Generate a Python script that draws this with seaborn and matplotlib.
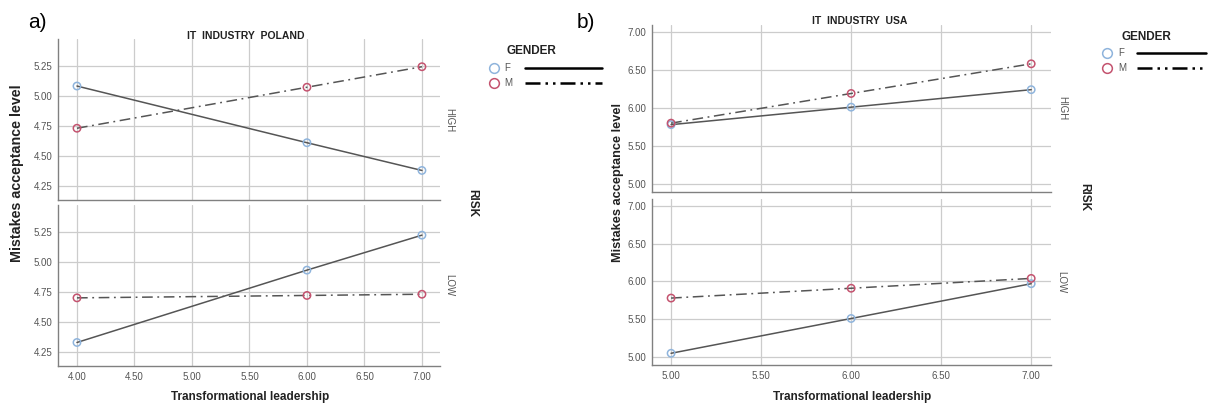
import pandas as pd
import matplotlib.pyplot as plt
import seaborn as sns
from matplotlib.lines import Line2D

# data
tl_poland = [4.0, 6.0, 7.0]
tl_usa = [5.0, 6.0, 7.0]
pol_high_f = [5.08, 4.61, 4.38]
pol_high_m = [4.73, 5.07, 5.24]
pol_low_f = [4.33, 4.93, 5.22]
pol_low_m = [4.70, 4.72, 4.73]
usa_high_f = [5.78, 6.01, 6.24]
usa_high_m = [5.80, 6.19, 6.58]
usa_low_f = [5.05, 5.51, 5.97]
usa_low_m = [5.78, 5.91, 6.04]
pol_xticks = [4.0, 4.5, 5.0, 5.5, 6.0, 6.5, 7.0]
pol_yticks = [4.25, 4.50, 4.75, 5.00, 5.25]
usa_xticks = [5.0, 5.5, 6.0, 6.5, 7.0]
usa_yticks = [5.0, 5.5, 6.0, 6.5, 7.0]

sns.set_theme(style="white")
plt.rcParams['font.family'] = ['Liberation Sans', 'DejaVu Sans']

W, H = 1210, 407
fig = plt.figure(figsize=(W / 100, H / 100), dpi=100)

def px_axes(x0, y0, x1, y1):
    return fig.add_axes([x0 / W, 1 - y1 / H, (x1 - x0) / W, (y1 - y0) / H])

f_col = '#8fb4dc'
m_col = '#c4536f'
line_col = '#555555'
grid_col = '#cccccc'
tick_col = '#555555'


def panel(ax, x, f, m, xlim, ylim, xticks, yticks, bottom):
    d = pd.DataFrame({
        'TL': list(x) * 2,
        'MAL': list(f) + list(m),
        'GENDER': ['F'] * len(x) + ['M'] * len(x),
    })
    sns.lineplot(data=d, x='TL', y='MAL', style='GENDER',
                 dashes={'F': '', 'M': (7, 3, 1.2, 3)}, color=line_col,
                 lw=1.1, legend=False, ax=ax)
    sns.scatterplot(data=d, x='TL', y='MAL', hue='GENDER',
                    palette={'F': f_col, 'M': m_col}, s=28, lw=1.1,
                    legend=False, ax=ax, zorder=4)
    coll = ax.collections[-1]
    coll.set_edgecolors(coll.get_facecolors())
    coll.set_facecolors('none')
    ax.set_xlim(*xlim)
    ax.set_ylim(*ylim)
    ax.set_xticks(xticks)
    ax.set_yticks(yticks)
    ax.set_yticklabels([f'{v:.2f}' for v in yticks], fontsize=7, color=tick_col)
    if bottom:
        ax.set_xticklabels([f'{v:.2f}' for v in xticks], fontsize=7, color=tick_col)
    else:
        ax.set_xticklabels([])
    ax.tick_params(length=0, pad=4)
    ax.grid(True, color=grid_col, lw=0.9)
    ax.set_axisbelow(True)
    for s in ['top', 'right']:
        ax.spines[s].set_visible(False)
    for s in ['left', 'bottom']:
        ax.spines[s].set_color('#808080')
        ax.spines[s].set_linewidth(1.0)
    ax.set_xlabel('')
    ax.set_ylabel('')


# Poland
pxlim = (3.835, 7.157)
pylim = (4.135, 5.47)
ax1 = px_axes(58, 39, 440, 200)
panel(ax1, tl_poland, pol_high_f, pol_high_m, pxlim, pylim, pol_xticks, pol_yticks, False)
ax2 = px_axes(58, 205, 440, 366)
panel(ax2, tl_poland, pol_low_f, pol_low_m, pxlim, pylim, pol_xticks, pol_yticks, True)

# USA
uxlim = (4.894, 7.11)
uylim = (4.895, 7.09)
ax3 = px_axes(652, 25, 1051, 192)
panel(ax3, tl_usa, usa_high_f, usa_high_m, uxlim, uylim, usa_xticks, usa_yticks, False)
ax4 = px_axes(652, 199, 1051, 365)
panel(ax4, tl_usa, usa_low_f, usa_low_m, uxlim, uylim, usa_xticks, usa_yticks, True)


def ftext(x, y, s, **kw):
    fig.text(x / W, 1 - y / H, s, ha='center', va='center', **kw)


# panel letters and titles
ftext(37, 23, 'a)', fontsize=15, color='black')
ftext(586, 22, 'b)', fontsize=15, color='black')
ftext(246, 36, 'IT  INDUSTRY  POLAND', fontsize=7.5, fontweight='bold', color='#222222')
ftext(860, 21, 'IT  INDUSTRY  USA', fontsize=7.5, fontweight='bold', color='#222222')

# axis labels
ftext(17, 173, 'Mistakes acceptance level', fontsize=10.3, fontweight='bold', rotation=90, color='#222222')
ftext(618, 182, 'Mistakes acceptance level', fontsize=9.2, fontweight='bold', rotation=90, color='#222222')
ftext(250, 397, 'Transformational leadership', fontsize=8.5, fontweight='bold', color='#222222')
ftext(852, 397, 'Transformational leadership', fontsize=8.5, fontweight='bold', color='#222222')

# facet labels
ftext(472, 203, 'RISK', fontsize=8.5, fontweight='bold', rotation=270, color='#222222')
ftext(1084, 197, 'RISK', fontsize=8.5, fontweight='bold', rotation=270, color='#222222')
ftext(449, 120, 'HIGH', fontsize=7, rotation=270, color='#555555')
ftext(449, 285, 'LOW', fontsize=7, rotation=270, color='#555555')
ftext(1062, 108, 'HIGH', fontsize=7, rotation=270, color='#555555')
ftext(1061, 282, 'LOW', fontsize=7, rotation=270, color='#555555')


# legends
def legend(x_circ, x_txt, x_l0, x_l1, y_title, y_f, y_m, x_title):
    ftext(x_title, y_title, 'GENDER', fontsize=8.5, fontweight='bold', color='#222222')
    for y, lab, col, ls in [(y_f, 'F', f_col, '-'), (y_m, 'M', m_col, (0, (6, 2, 1, 2, 1, 2)))]:
        fig.add_artist(Line2D([x_circ / W], [1 - y / H], marker='o', ms=7,
                              mfc='none', mec=col, mew=1.1, ls='none'))
        fig.text(x_txt / W, 1 - y / H, lab, ha='left', va='center', fontsize=7, color='#555555')
        fig.add_artist(Line2D([x_l0 / W, x_l1 / W], [1 - y / H, 1 - y / H],
                              color='black', lw=1.8, ls=ls))


legend(494, 504, 525, 602, 51, 68, 83, 531)
legend(1107, 1118, 1137, 1206, 37, 53, 68, 1146)

plt.savefig('out.png', dpi=100)
